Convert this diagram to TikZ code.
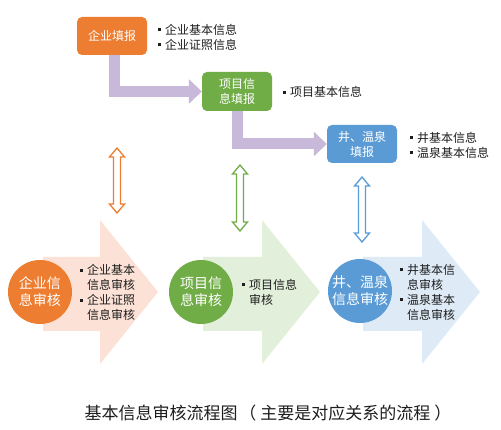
\documentclass[tikz,border=0pt]{standalone}
\usepackage{fontspec}
\setmainfont{Noto Sans CJK SC}
\usetikzlibrary{arrows.meta}
\definecolor{corange}{HTML}{ED7D31}
\definecolor{cgreen}{HTML}{70AD47}
\definecolor{cblue}{HTML}{5B9BD5}
\definecolor{lorange}{RGB}{252,226,214}
\definecolor{lgreen}{RGB}{226,239,218}
\definecolor{lblue}{RGB}{222,235,247}
\definecolor{cpurple}{RGB}{200,184,218}
\definecolor{ctext}{RGB}{30,30,30}
\newcommand{\bul}{\rule[3pt]{3pt}{3pt}\hspace{4pt}}
\newcommand{\bulsp}{\hspace{7pt}}
\newcommand{\dblarr}[4]{\draw[#4, line width=1.3pt, fill=white, line join=miter]
  (#1,#2) -- (#1+7.5,#2+9) -- (#1+3.5,#2+9) -- (#1+3.5,#3-9) -- (#1+7.5,#3-9) -- (#1,#3)
  -- (#1-7.5,#3-9) -- (#1-3.5,#3-9) -- (#1-3.5,#2+9) -- (#1-7.5,#2+9) -- cycle;}
\newcommand{\bigarr}[4]{\fill[#4] (#1,257) -- (#2,257) -- (#2,220) -- (#3,292) -- (#2,364) -- (#2,331) -- (#1,331) -- cycle;}
\begin{document}
\begin{tikzpicture}[x=1pt,y=-1pt,
  box/.style={rounded corners=5pt, minimum width=70pt, minimum height=38pt, inner sep=0pt,
    text=white, align=center, font=\fontsize{12}{15}\selectfont},
  circ/.style={circle, minimum size=64pt, inner sep=0pt, text=white, align=center,
    font=\fontsize{14}{17}\selectfont},
  info/.style={anchor=west, align=left, inner sep=0pt, text=ctext, font=\fontsize{12}{15}\selectfont},
  conn/.style={cpurple, line width=11pt, -{Triangle[width=24pt,length=13pt]}}]
\useasboundingbox (0,0) rectangle (501,430);
\fill[white] (0,0) rectangle (501,430);

% big light arrows
\bigarr{43}{100}{158}{lorange}
\bigarr{203}{262}{320}{lgreen}
\bigarr{363}{422}{480}{lblue}

% top boxes
\node[box, fill=corange] (b1) at (112,36) {企业填报};
\node[box, fill=cgreen, minimum height=39pt] (b2) at (237,91.5) {项目信\\息填报};
\node[box, fill=cblue] (b3) at (362,144) {井、温泉\\填报};

\node[info] (i1) at (158,37) {\bul 企业基本信息\\\bul 企业证照信息};
\node[info] (i2) at (283,92) {\bul 项目基本信息};
\node[info] (i3) at (410,145) {\bul 井基本信息\\\bul 温泉基本信息};

% purple connectors
\draw[conn] ([xshift=2.5pt]b1.south) |- (b2.west);
\draw[conn] (b2.south) |- (b3.west);

% double arrows
\dblarr{117}{148}{213}{corange}
\dblarr{240}{165}{231}{cgreen}
\dblarr{362}{177}{242}{cblue}

% circles
\node[circ, fill=corange] (c1) at (40,292) {企业信\\息审核};
\node[circ, fill=cgreen] (c2) at (201,292) {项目信\\息审核};
\node[circ, fill=cblue] (c3) at (360,291) {井、温泉\\信息审核};

\node[info] (t1) at (80,292.5) {\bul 企业基本\\\bulsp 信息审核\\\bul 企业证照\\\bulsp 信息审核};
\node[info] (t2) at (242,292) {\bul 项目信息\\\bulsp 审核};
\node[info] (t3) at (400,292) {\bul 井基本信\\\bulsp 息审核\\\bul 温泉基本\\\bulsp 信息审核};

% caption
\node[inner sep=0pt, text=ctext, font=\fontsize{17}{20}\selectfont] (cap) at (268,413) {基本信息审核流程图\hspace{2pt}（\hspace{4pt}主要是对应关系的流程\hspace{4pt}）};
\end{tikzpicture}
\end{document}
